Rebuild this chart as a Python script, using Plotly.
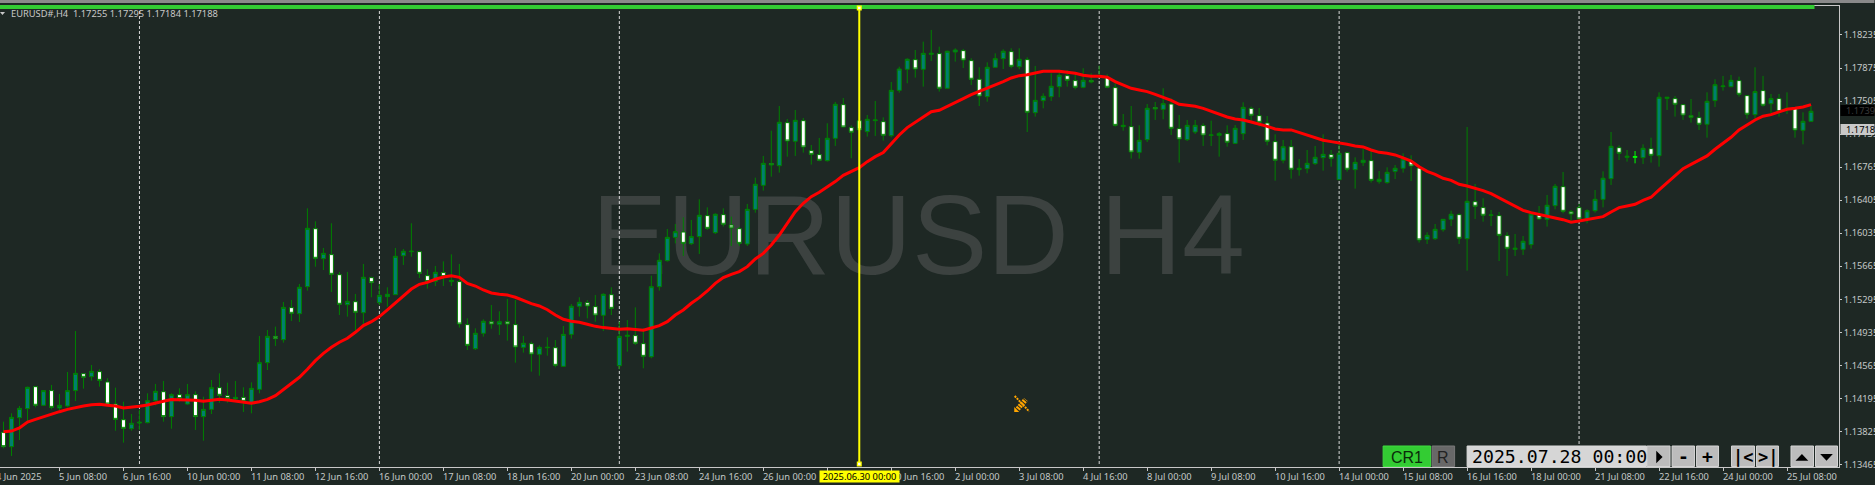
import plotly.graph_objects as go

# Prices in points (1e-5), bar by bar
highs_pts = [
113939,114032,114113,114328,114335,114291,114347,114247,114491,114946,
114476,114569,114521,114421,114317,114161,114024,114069,114254,114358,
114391,114254,114309,114358,114276,114217,114402,114476,114372,114391,
114321,114376,114891,114958,114995,115269,115291,115469,116309,116165,
115869,116143,115602,115602,115358,115691,115550,115469,115432,115869,
115858,116143,115839,115632,115669,115720,115798,115691,115087,114976,
115076,115235,115165,115302,115291,114891,114828,114787,114876,114846,
115002,115246,115321,115291,115346,115365,115432,115050,115069,115209,
114976,115561,115809,116080,116135,116209,116180,116409,116320,116254,
116309,116217,116106,116358,116650,116891,117172,117446,117302,117402,
117313,117013,117091,117254,117491,117535,117231,117346,117346,117502,
117320,117713,117883,117976,118068,118161,118291,118105,118061,118087,
118080,117976,117876,117931,118031,118076,118087,118087,117987,117891,
117587,117809,117828,117846,117791,117865,117809,117894,117798,117698,
117357,117446,117231,117468,117491,117643,117531,117346,117291,117291,
117254,117283,117157,117231,117235,117487,117439,117424,117335,117131,
117069,117069,116857,116957,117002,117131,116957,117039,116939,116876,
116969,116957,116724,116765,116791,116920,116898,116780,116043,116135,
116187,116283,116254,117213,116580,116420,116291,116269,116043,116024,
116002,116272,116335,116457,116580,116713,116291,116358,116298,116513,
116720,117157,117009,116957,116946,117020,117094,117598,117546,117557,
117465,117524,117383,117598,117743,117780,117791,117772,117568,117876,
117780,117580,117580,117598,117432,117376,117446]
lows_pts = [
113643,113558,113735,113939,114098,114113,114076,114069,114098,114169,
114306,114395,114328,114124,113839,113706,113839,113847,113921,114121,
113939,113861,114161,114128,113847,113728,114024,114150,114150,114161,
114047,114032,114254,114513,114780,114817,115058,115047,115395,115661,
115624,115380,115124,115106,114921,115013,115321,115235,115217,115346,
115680,115772,115535,115417,115446,115446,115446,114984,114735,114735,
114884,114972,114902,114839,114595,114706,114495,114450,114672,114543,
114550,114861,115106,115087,115050,114946,115124,114521,114717,114791,
114532,114643,115395,115717,115920,115780,115902,115802,116069,116024,
116106,115891,115891,115891,116261,116506,116661,116706,116883,116891,
116928,116795,116832,116828,117002,117209,116865,116754,117106,117113,
117061,117098,117594,117698,117761,117661,117946,117606,117639,117939,
117868,117680,117446,117494,117872,117857,117865,117854,117157,117328,
117420,117502,117543,117661,117631,117643,117698,117765,117643,117217,
117172,116861,116861,117046,117291,117298,117124,116817,117057,117135,
117002,117002,116883,116994,117024,117069,117283,117217,117009,116617,
116809,116639,116672,116698,116791,116728,116772,116624,116717,116528,
116780,116595,116583,116583,116635,116706,116613,115928,115913,115958,
116050,116113,115913,115617,116191,116161,116113,115724,115558,115780,
115791,115861,116180,116106,116298,116254,116165,116180,116143,116261,
116320,116569,116846,116828,116809,116802,116817,116772,117402,117328,
117291,117261,117180,117094,117435,117617,117654,117550,117306,117306,
117439,117365,117328,117357,117094,117020,117269]
opens_pts = [
113821,113661,113984,114084,114328,114121,114284,114091,114113,114284,
114472,114439,114495,114380,114135,113961,113861,113924,113928,114172,
114272,113995,114239,114135,114239,113995,114076,114317,114228,114191,
114209,114150,114298,114595,114887,114850,115206,115139,115439,116083,
115750,115795,115572,115239,115272,115150,115539,115261,115328,115350,
115783,115828,115828,115561,115498,115595,115495,115495,115017,114750,
114921,115050,115021,115050,115017,114765,114806,114687,114761,114761,
114554,114909,115221,115261,115217,115121,115350,114561,114887,114895,
114806,114661,115439,115728,115987,116046,115917,115995,116228,116039,
116239,116124,116083,115913,116298,116565,116806,116783,117261,117054,
117283,116950,116906,116839,117087,117461,117206,117283,117161,117283,
117272,117117,117620,117854,117961,117854,118020,118028,117643,118046,
118061,117950,117743,117550,117876,117972,118050,117883,117961,117372,
117506,117550,117661,117783,117728,117654,117728,117769,117769,117650,
117217,117217,116931,117072,117428,117409,117468,117194,117072,117157,
117228,117120,117120,117139,117031,117139,117420,117339,117257,117050,
116843,116994,116739,116750,116806,116872,116906,116628,116928,116739,
116817,116839,116606,116595,116720,116754,116832,116757,115965,115972,
116072,116187,116239,115972,116383,116317,116232,116228,116006,115854,
115854,115906,116235,116187,116339,116550,116272,116317,116195,116283,
116409,116639,116983,116876,116876,116872,116972,116894,117531,117528,
117461,117339,117317,117243,117506,117661,117661,117728,117561,117350,
117617,117472,117528,117413,117420,117176,117276]
closes_pts = [
113661,113987,114087,114321,114121,114284,114098,114121,114284,114476,
114432,114498,114398,114135,113965,113865,113921,113932,114172,114276,
113995,114239,114195,114239,113995,114076,114317,114232,114195,114209,
114165,114309,114595,114887,114861,115209,115143,115432,116087,115754,
115809,115576,115243,115276,115154,115543,115483,115343,115354,115776,
115832,115832,115587,115495,115598,115550,115509,115024,114787,114921,
115054,115024,115050,115024,114769,114810,114691,114765,114765,114565,
114909,115221,115265,115224,115124,115354,115198,114887,114898,114810,
114665,115439,115732,115987,116050,115920,115995,116232,116087,116243,
116132,116091,115920,116298,116576,116809,116791,117265,117057,117287,
116991,116909,116843,117087,117465,117213,117154,117180,117298,117291,
117120,117620,117857,117965,117857,118031,118031,117643,118054,118068,
117957,117743,117557,117876,117972,118054,117887,117965,117376,117509,
117554,117665,117787,117731,117654,117731,117713,117780,117654,117231,
117231,116935,117065,117420,117413,117472,117198,117080,117231,117231,
117124,117124,117139,117043,117198,117431,117343,117265,117054,116843,
116994,116743,116754,116809,116876,116909,116865,116920,116743,116820,
116843,116620,116632,116709,116754,116857,116780,115958,116009,116076,
116187,116243,115976,116387,116332,116232,116235,116009,115865,115865,
115943,116246,116191,116343,116554,116276,116246,116191,116283,116409,
116643,116998,116920,116887,116883,116976,116898,117543,117543,117465,
117346,117320,117243,117498,117683,117668,117731,117576,117354,117606,
117454,117528,117383,117420,117180,117276,117387]
ma_pts = [
113828,113835,113869,113935,113965,113995,114028,114050,114076,114098,
114113,114128,114132,114121,114113,114091,114098,114110,114124,114147,
114165,114184,114184,114184,114176,114165,114176,114187,114180,114165,
114154,114143,114161,114187,114228,114295,114358,114432,114521,114617,
114698,114765,114821,114865,114932,115006,115050,115106,115180,115261,
115335,115413,115465,115487,115521,115546,115561,115543,115476,115446,
115402,115369,115354,115346,115321,115283,115250,115224,115183,115124,
115076,115054,115043,115021,114998,114984,114972,114965,114972,114965,
114954,114980,115006,115050,115124,115180,115254,115317,115391,115476,
115539,115576,115606,115661,115746,115809,115902,116013,116143,116272,
116365,116439,116487,116543,116606,116676,116717,116761,116828,116883,
116928,117024,117124,117206,117265,117320,117383,117398,117439,117483,
117528,117572,117606,117646,117680,117717,117757,117783,117794,117809,
117831,117831,117831,117820,117809,117787,117776,117776,117765,117717,
117683,117643,117624,117606,117576,117546,117509,117465,117454,117443,
117420,117387,117354,117324,117302,117291,117269,117246,117220,117191,
117180,117180,117150,117128,117098,117065,117050,117039,117020,117002,
116991,116957,116931,116920,116902,116869,116835,116772,116720,116687,
116643,116620,116576,116557,116532,116506,116472,116424,116380,116332,
116287,116261,116239,116217,116202,116183,116154,116169,116183,116195,
116217,116269,116317,116335,116354,116398,116432,116513,116591,116676,
116750,116798,116843,116891,116965,117031,117098,117180,117235,117291,
117332,117350,117380,117409,117420,117435,117461]
opens=[v/1e5 for v in opens_pts]; highs=[v/1e5 for v in highs_pts]
lows=[v/1e5 for v in lows_pts]; closes=[v/1e5 for v in closes_pts]; ma=[v/1e5 for v in ma_pts]
selected_bar = 204
separator_bars = [17,47,77,137,167,197]
cursor_bar = 107
x_tick_bars = list(range(-1,226,8))
x_tick_labels = ['4 Jun 2025','5 Jun 08:00','6 Jun 16:00','10 Jun 00:00','11 Jun 08:00','12 Jun 16:00','16 Jun 00:00',
 '17 Jun 08:00','18 Jun 16:00','20 Jun 00:00','23 Jun 08:00','24 Jun 16:00','26 Jun 00:00','27 Jun 08:00','30 Jun 16:00',
 '2 Jul 00:00','3 Jul 08:00','4 Jul 16:00','8 Jul 00:00','9 Jul 08:00','10 Jul 16:00','14 Jul 00:00','15 Jul 08:00',
 '16 Jul 16:00','18 Jul 00:00','21 Jul 08:00','22 Jul 16:00','24 Jul 00:00','25 Jul 08:00']
y_tick_values = [1.18235,1.17868,1.17501,1.17134,1.16767,1.16400,1.16033,1.15666,1.15299,1.14932,1.14565,1.14198,1.13831,1.13464]
y_tick_labels = ['1.18235','1.17875','1.17505','1.17135','1.16765','1.16405','1.16035','1.15665','1.15295','1.14935','1.14565','1.14195','1.13825','1.13465']

x0=-0.4375; x1=229.5
W=1839.5; T=5.0; B=467.0
def px(v): return v/W
def py(v): return 1-(v-T)/(B-T)
def bx(i): return (i-x0)/(x1-x0)
BG='#1e2824'; GR='#c8c8c8'; TICK='#c4c8c8'; WICK='#008000'
FONT='Noto Sans'
idx=list(range(len(opens)))
fig=go.Figure()
def candle(ix,inc,dec):
    return go.Candlestick(x=ix,open=[opens[i] for i in ix],high=[highs[i] for i in ix],low=[lows[i] for i in ix],close=[closes[i] for i in ix],
      increasing=dict(line=dict(color=inc,width=1),fillcolor='#007f70'),
      decreasing=dict(line=dict(color=dec,width=1),fillcolor='#ffffff'),whiskerwidth=0,showlegend=False,hoverinfo='skip')
fig.add_trace(candle([i for i in idx if i!=selected_bar],WICK,WICK))
fig.add_trace(candle([selected_bar],'#00ff00','#00ff00'))
fig.add_trace(go.Scatter(x=idx,y=ma,mode='lines',line=dict(color='#ff0000',width=3),showlegend=False,hoverinfo='skip'))

shapes=[];ann=[]
def rect(x0_,x1_,y0_,y1_,fill,line=None,layer='above'):
    shapes.append(dict(type='rect',xref='paper',yref='paper',x0=px(x0_),x1=px(x1_),y0=py(y1_),y1=py(y0_),fillcolor=fill,layer=layer,
        line=dict(width=1 if line else 0,color=line or fill)))
def path(pts,fill=None,color=None,width=0,dash=None):
    d='M'+' L'.join(f'{px(a)},{py(b)}' for a,b in pts)+(' Z' if fill else '')
    sh=dict(type='path',xref='paper',yref='paper',path=d,layer='above',line=dict(width=width,color=color or 'rgba(0,0,0,0)'))
    if fill: sh['fillcolor']=fill
    if dash: sh['line']['dash']=dash
    shapes.append(sh)
def text(x,y,s,size,color,family=FONT,anchor='left',**kw):
    ann.append(dict(xref='paper',yref='paper',x=px(x),y=py(y),xanchor=anchor,yanchor='middle',text=s,showarrow=False,font=dict(family=family,size=size,color=color),**kw))

# watermark and period separators, below the candles
shapes.append(dict(type='rect',xref='paper',yref='paper',x0=px(596),x1=px(1241),y0=py(279),y1=py(169),layer='below',line=dict(width=0),fillcolor='rgba(0,0,0,0)',
   label=dict(text='EURUSD H4',font=dict(family='Liberation Sans',size=113,color='#3c4240'),textposition='middle center')))
for b in separator_bars:
    shapes.append(dict(type='line',xref='x',yref='paper',x0=b,x1=b,y0=py(464),y1=py(10),layer='below',line=dict(color='#d8d8d8',width=1,dash='3px,2px')))

# window chrome
rect(0,1875,0,3,'#8a8a8a')
path([(0,5.5),(W,5.5)],color=GR,width=1)
rect(0,1815,5,9,'#33cc33')
shapes.append(dict(type='line',xref='x',yref='paper',x0=cursor_bar,x1=cursor_bar,y0=py(464),y1=py(8),layer='above',line=dict(color='#ffff00',width=2)))
for yc in (8,464):
    shapes.append(dict(type='rect',xref='x',yref='paper',x0=cursor_bar-0.3125,x1=cursor_bar+0.3125,y0=py(yc+2.5),y1=py(yc-2.5),layer='above',fillcolor='#ffff00',line=dict(width=0)))
    shapes.append(dict(type='rect',xref='x',yref='paper',x0=cursor_bar-0.15,x1=cursor_bar+0.15,y0=py(yc+1.2),y1=py(yc-1.2),layer='above',fillcolor='#ffffff',line=dict(width=0)))
path([(0,12),(5,12),(2.5,15)],fill=GR)
# pencil icon
path([(1015,396),(1029.5,411.5)],color='#ffa500',width=2,dash='2px,1px')
path([(1018,409),(1026,399.5)],color='#ffa500',width=5,dash='2px,1px')
path([(1014.5,412),(1014.5,407),(1019.5,412)],fill='#ffa500')
# trade panel
rect(1383.5,1431,446,466.5,'#33cc33','#3fdc3f')
rect(1432.5,1455,446,466.5,'#686868','#787878')
rect(1467.5,1647,446,466.5,'#d6d6d6','#dcdcdc')
for a,b in [(1647.5,1670.5),(1672.5,1695),(1697,1719),(1732,1755),(1757,1779),(1791.5,1814),(1816,1838)]:
    rect(a,b,446,466.5,'#bcbcbc','#d4d4d4')
path([(1656.7,450.7),(1663,457),(1656.7,463.3)],fill='#000000')
path([(1796,460.7),(1802.4,454),(1808.8,460.7)],fill='#000000')
path([(1820.7,454),(1833.3,454),(1827,460.7)],fill='#000000')
# price line boxes
rect(1841,1875,105,116,'#000000')
rect(1841,1875,124,135,'#c8c8c8')

# texts
text(8.8,13.8,'EURUSD#,H4&nbsp;&nbsp;1.17255 1.17295 1.17184 1.17188',9.3,GR)
for b,t in zip(x_tick_bars,x_tick_labels):
    ann.append(dict(xref='paper',yref='paper',x=bx(b)-2/W,y=py(476.7),xanchor='left',yanchor='middle',text=t,showarrow=False,font=dict(family=FONT,size=9.3,color=TICK)))
ann.append(dict(xref='paper',yref='paper',x=bx(cursor_bar),y=py(476.7),xanchor='center',yanchor='middle',width=79,height=11,bgcolor='#ffff00',borderpad=0,
    text='2025.06.30 00:00',showarrow=False,font=dict(family=FONT,size=9.3,color='#000000')))
text(1844.2,110.5,'1.17395',9.3,'#3a3a3a')
text(1844.2,129.5,'1.17188',9.3,'#000000')
text(1407.5,457,'CR1',16,'#0a2a0a','Liberation Sans',anchor='center')
text(1443.7,457,'R',16,'#222222','Liberation Sans',anchor='center')
text(1470,456.5,'2025.07.28 00:00',18.2,'#000000','DejaVu Sans Mono')
text(1683.7,456.5,'<b>-</b>',18,'#000000','DejaVu Sans Mono',anchor='center')
text(1708,456.5,'<b>+</b>',18,'#000000','DejaVu Sans Mono',anchor='center')
text(1743.5,456.5,'<b>|&lt;</b>',17,'#000000','DejaVu Sans Mono',anchor='center')
text(1768,456.5,'<b>&gt;|</b>',17,'#000000','DejaVu Sans Mono',anchor='center')

fig.update_layout(width=1875,height=485,margin=dict(l=0,r=35.5,t=5,b=18,autoexpand=False),plot_bgcolor=BG,paper_bgcolor=BG,shapes=shapes,annotations=ann,boxgap=0.2857,
  xaxis=dict(range=[x0,x1],rangeslider=dict(visible=False),showgrid=False,zeroline=False,showline=True,linecolor=GR,linewidth=1,tickmode='array',tickvals=x_tick_bars[1:],ticktext=['']*(len(x_tick_bars)-1),ticks='outside',ticklen=3,tickcolor=GR,tickwidth=1,automargin=False),
  yaxis=dict(range=[1.134355,1.18568],side='right',showgrid=False,zeroline=False,showline=True,linecolor=GR,linewidth=1,tickmode='array',tickvals=y_tick_values,ticktext=y_tick_labels,tickfont=dict(family=FONT,size=9.3,color=TICK),ticks='outside',ticklen=2,tickcolor=GR,tickwidth=1,automargin=False))
fig.write_html('out.html',config=dict(displayModeBar=False),post_script="document.body.style.margin='0';")
